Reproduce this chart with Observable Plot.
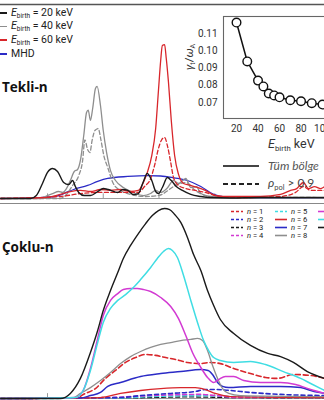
<!DOCTYPE html>
<html><head><meta charset="utf-8">
<script src="https://cdn.jsdelivr.net/npm/d3@7"></script>
<script src="https://cdn.jsdelivr.net/npm/@observablehq/plot@0.6"></script>
<style>
body{margin:0;background:#fff;font-family:Roboto,"Open Sans",sans-serif;color:#222;}
#wrap{position:relative;width:324px;height:400px;overflow:hidden;background:#fff;}
#wrap > *{position:absolute;}
.row{display:flex;align-items:center;white-space:nowrap;}
.sub{font-size:0.62em;position:relative;top:0.35em;}
.title{font-family:"Open Sans",sans-serif;font-weight:700;font-size:13.5px;color:#111;}
</style></head><body><div id="wrap"></div>
<script>
// ---------- data: top panel (single-n), x in arbitrary frequency units, y amplitude ----------
const topTicks = [1, 2, 3, 4];
const top20 = [[0.16,0],[0.70,0],[0.80,0.019],[0.91,0.097],[1.0,0.168],[1.09,0.193],[1.18,0.174],[1.29,0.103],[1.38,0.090],[1.45,0.116],[1.50,0.077],[1.56,0.039],[1.66,0.019],[1.77,0.019],[1.90,0.045],[2.0,0.064],[2.09,0.058],[2.26,0.039],[2.35,0.058],[2.44,0.052],[2.54,0.026],[2.63,0.032],[2.72,0.110],[2.79,0.161],[2.87,0.116],[2.94,0.045],[2.99,0.032],[3.06,0.071],[3.15,0.135],[3.22,0.116],[3.31,0.077],[3.42,0.052],[3.57,0.026],[3.75,0.013],[3.92,0.006],[4.28,0.003],[4.82,0.006],[5.36,0.006],[5.97,0.006]];
const top40 = [[0.16,0],[0.87,0],[0.96,0.013],[1.09,0.032],[1.20,0.045],[1.27,0.039],[1.34,0.064],[1.41,0.116],[1.48,0.174],[1.54,0.187],[1.59,0.245],[1.65,0.406],[1.70,0.554],[1.73,0.570],[1.77,0.503],[1.81,0.580],[1.86,0.709],[1.89,0.722],[1.95,0.599],[2.0,0.438],[2.06,0.296],[2.13,0.180],[2.22,0.116],[2.36,0.071],[2.54,0.039],[2.72,0.019],[2.85,0.032],[2.94,0.052],[3.03,0.039],[3.14,0.064],[3.26,0.116],[3.35,0.097],[3.48,0.129],[3.57,0.071],[3.67,0.077],[3.75,0.032],[3.92,0.013],[4.10,0.006],[4.64,0.006],[5.97,0.006]];
const top40pol = [[0.16,0],[1.23,0],[1.34,0.026],[1.45,0.084],[1.56,0.148],[1.63,0.245],[1.67,0.378],[1.72,0.315],[1.76,0.296],[1.80,0.374],[1.85,0.438],[1.91,0.451],[1.96,0.374],[2.01,0.277],[2.08,0.200],[2.18,0.097],[2.31,0.052],[2.49,0.026],[2.76,0.013],[3.0,0.020],[3.30,0.084],[3.48,0.103],[3.65,0.052],[3.92,0.013],[5.97,0.006]];
const top60 = [[0.16,0],[0.96,0.006],[1.23,0.026],[1.41,0.045],[1.59,0.052],[1.77,0.045],[1.95,0.058],[2.13,0.052],[2.31,0.058],[2.49,0.045],[2.63,0.052],[2.72,0.103],[2.79,0.168],[2.87,0.277],[2.94,0.451],[2.99,0.696],[3.03,0.889],[3.06,0.986],[3.10,0.992],[3.13,0.902],[3.17,0.747],[3.22,0.503],[3.28,0.277],[3.35,0.155],[3.44,0.097],[3.57,0.084],[3.69,0.071],[3.83,0.052],[3.96,0.026],[4.10,0.013],[4.46,0.013],[4.82,0.013],[5.18,0.026],[5.36,0.052],[5.47,0.064],[5.59,0.103],[5.68,0.064],[5.79,0.077],[5.90,0.064],[5.97,0.077]];
const top60pol = [[0.16,0],[1.23,0.013],[1.59,0.032],[1.95,0.039],[2.31,0.039],[2.63,0.039],[2.74,0.077],[2.85,0.129],[2.92,0.213],[2.99,0.322],[3.05,0.380],[3.10,0.393],[3.15,0.341],[3.21,0.232],[3.26,0.135],[3.35,0.084],[3.48,0.064],[3.65,0.052],[3.83,0.039],[4.01,0.019],[4.46,0.006],[5.18,0.013],[5.45,0.039],[5.59,0.077],[5.72,0.052],[5.97,0.052]];
const topMHD = [[0.16,0],[0.87,0.006],[1.14,0.013],[1.29,0.032],[1.47,0.058],[1.72,0.084],[1.90,0.110],[2.08,0.129],[2.44,0.142],[2.79,0.148],[3.03,0.145],[3.24,0.135],[3.51,0.116],[3.75,0.077],[3.98,0.026],[4.19,0.010],[4.82,0.006],[5.97,0.006]];
const topLabels = ["20 keV", "40 keV", "60 keV", "MHD"];

// ---------- data: bottom panel (multi-n) ----------
const bottomTicks = [1, 4];
const n1 = [[0.16,0],[1.50,0.003],[1.68,0.026],[1.86,0.051],[2.04,0.103],[2.22,0.144],[2.40,0.185],[2.58,0.210],[2.76,0.226],[2.94,0.221],[3.12,0.210],[3.30,0.200],[3.51,0.185],[3.75,0.179],[3.92,0.185],[4.10,0.179],[4.34,0.154],[4.64,0.128],[4.91,0.108],[5.12,0.103],[5.41,0.123],[5.72,0.118],[5.97,0.103]];
const n2 = [[0.16,0],[2.31,0.005],[2.67,0.015],[3.21,0.026],[3.65,0.036],[3.83,0.046],[4.01,0.046],[4.28,0.041],[4.64,0.031],[5.18,0.021],[5.97,0.015]];
const n3 = [[0.16,0],[2.5,0.003],[3.5,0.008],[4.3,0.005],[5.97,0.003]];
const n4 = [[0.16,0],[2.13,0.005],[2.85,0.015],[3.75,0.021],[4.01,0.015],[4.46,0.005],[5.97,0.005]];
const n5 = [[0.16,0],[2.31,0.003],[2.85,0.010],[3.75,0.015],[4.28,0.010],[5.97,0.005]];
const n6 = [[0.16,0],[1.95,0.005],[2.31,0.026],[2.67,0.041],[3.03,0.051],[3.39,0.056],[3.65,0.056],[3.83,0.046],[4.01,0.026],[4.28,0.010],[5.97,0.005]];
const n7 = [[0.16,0],[1.59,0.003],[1.77,0.015],[1.95,0.031],[2.08,0.062],[2.31,0.082],[2.67,0.113],[3.03,0.128],[3.39,0.138],[3.75,0.149],[3.88,0.144],[3.96,0.123],[4.05,0.082],[4.14,0.062],[4.25,0.056],[4.64,0.062],[5.18,0.062],[5.54,0.056],[5.78,0.036],[5.97,0.026]];
const n8 = [[0.16,0],[1.45,0.003],[1.59,0.026],[1.77,0.056],[1.95,0.092],[2.13,0.133],[2.31,0.179],[2.49,0.215],[2.67,0.241],[2.85,0.262],[3.03,0.277],[3.21,0.287],[3.39,0.297],[3.57,0.303],[3.69,0.308],[3.78,0.297],[3.87,0.246],[3.96,0.169],[4.05,0.103],[4.14,0.051],[4.25,0.026],[4.46,0.015],[5.97,0.010]];
const n9 = [[0.16,0],[1.50,0.005],[1.64,0.041],[1.77,0.154],[1.90,0.308],[2.0,0.426],[2.13,0.503],[2.26,0.538],[2.36,0.559],[2.49,0.564],[2.61,0.564],[2.72,0.559],[2.85,0.549],[3.03,0.518],[3.21,0.472],[3.35,0.410],[3.48,0.323],[3.60,0.236],[3.75,0.159],[3.87,0.108],[3.98,0.082],[4.07,0.097],[4.19,0.113],[4.34,0.113],[4.52,0.092],[4.82,0.082],[5.18,0.082],[5.45,0.072],[5.72,0.046],[5.97,0.026]];
const n10 = [[0.16,0],[1.50,0.005],[1.64,0.041],[1.77,0.144],[1.90,0.287],[2.0,0.390],[2.13,0.462],[2.26,0.503],[2.40,0.533],[2.54,0.569],[2.67,0.610],[2.85,0.672],[2.97,0.718],[3.08,0.754],[3.17,0.769],[3.24,0.759],[3.33,0.723],[3.44,0.631],[3.57,0.503],[3.69,0.390],[3.80,0.297],[3.89,0.246],[3.98,0.210],[4.10,0.195],[4.34,0.185],[4.64,0.190],[4.91,0.174],[5.23,0.138],[5.54,0.103],[5.72,0.077],[5.97,0.041]];
const n11 = [[0.16,0],[1.23,0],[1.41,0.026],[1.59,0.103],[1.77,0.236],[1.90,0.349],[2.0,0.451],[2.13,0.554],[2.26,0.646],[2.36,0.718],[2.49,0.785],[2.63,0.846],[2.76,0.897],[2.88,0.938],[2.99,0.964],[3.10,0.974],[3.19,0.969],[3.28,0.944],[3.39,0.903],[3.51,0.826],[3.62,0.738],[3.75,0.656],[3.87,0.554],[3.98,0.477],[4.10,0.405],[4.34,0.333],[4.64,0.272],[4.95,0.231],[5.18,0.215],[5.41,0.185],[5.66,0.138],[5.97,0.103]];
const nLabels = ["n = 1","n = 2","n = 3","n = 4","n = 5","n = 6","n = 7","n = 8"];

// ---------- data: inset growth rate ----------
const birthKeV = [20, 30, 40, 45, 50, 55, 60, 70, 80, 90, 100];
const growthRate = [0.1164, 0.0938, 0.0827, 0.0793, 0.0752, 0.0741, 0.0730, 0.0713, 0.0707, 0.0696, 0.0688];
const insetXTicks = [20, 40, 60, 80, 100];
const insetYTicks = [0.07, 0.08, 0.09, 0.10, 0.11];

// ---------- styles ----------
const C = {black:"#1a1a1a", gray:"#8e8e8e", red:"#d8262b", blue:"#2b2bc6", magenta:"#d23ad2", cyan:"#3fdde3"};
const xDomain = [0.157, 5.968];
const wrap = document.getElementById("wrap");
function place(node, left, top){ node.style.left = left + "px"; node.style.top = top + "px"; wrap.appendChild(node); return node; }
function html(s){ const d = document.createElement("div"); d.innerHTML = s; return d; }
const line = (data, stroke, dash, w = 1.3) => Plot.line(data, {x: d => d[0], y: d => d[1], stroke, strokeWidth: w, strokeDasharray: dash, curve: "monotone-x"});

// ---------- top panel ----------
const topPlot = Plot.plot({
  width: 324, height: 200, marginTop: 4, marginBottom: 2, marginLeft: 0, marginRight: 0,
  x: {domain: xDomain, axis: null}, y: {domain: [0, 1.25], axis: null},
  style: {background: "transparent"},
  marks: [
    Plot.ruleY([1.25], {stroke: "#555", strokeWidth: 1.6}),
    Plot.ruleY([0], {stroke: "#9a9a9a", strokeWidth: 1.2}),
    Plot.ruleX(topTicks, {y1: 0, y2: 0.03, stroke: "#9a9a9a"}),
    line(topMHD, C.blue),
    line(top40pol, C.gray, "4,2.5"),
    line(top40, C.gray),
    line(top60pol, C.red, "4,2.5"),
    line(top60, C.red),
    line(top20, C.black, null, 1.4)
  ]
});
place(topPlot, 0, 0);

// ---------- bottom panel ----------
const botPlot = Plot.plot({
  width: 324, height: 200, marginTop: 3, marginBottom: 2, marginLeft: 0, marginRight: 0,
  x: {domain: xDomain, axis: null}, y: {domain: [0, 1], axis: null},
  style: {background: "transparent"},
  marks: [
    Plot.ruleY([1], {stroke: "#888", strokeWidth: 1.2}),
    Plot.ruleY([0], {stroke: "#9a9a9a", strokeWidth: 1.2}),
    Plot.ruleX(bottomTicks, {y1: 0, y2: 0.025, stroke: "#9a9a9a"}),
    line(n3, C.black, "4,3"),
    line(n5, C.cyan, "4,3", 1.6),
    line(n4, C.magenta, "4,3", 1.6),
    line(n2, C.blue, "4,3", 1.6),
    line(n6, C.red),
    line(n7, C.blue, null, 1.5),
    line(n1, C.red, "5,3", 1.6),
    line(n8, C.gray),
    line(n9, C.magenta, null, 1.5),
    line(n10, C.cyan, null, 1.5),
    line(n11, C.black, null, 1.4)
  ]
});
place(botPlot, 0, 200);

// ---------- inset ----------
const insetData = birthKeV.map((k, i) => ({keV: k, g: growthRate[i]}));
const inset = Plot.plot({
  width: 160, height: 150, marginLeft: 40, marginTop: 16, marginBottom: 32, marginRight: 0,
  x: {domain: [7.9, 119.5], ticks: insetXTicks, tickSize: 0, tickPadding: 6, label: null},
  y: {domain: [0.0607, 0.1199], ticks: insetYTicks, tickFormat: ".2f", tickSize: 0, tickPadding: 6, label: null},
  style: {background: "transparent", fontSize: "10px", fontFamily: "Roboto, sans-serif", color: "#333"},
  marks: [
    Plot.frame({stroke: "#666", strokeWidth: 1.1}),
    Plot.line(insetData, {x: "keV", y: "g", stroke: "#111", strokeWidth: 1.5}),
    Plot.dot(insetData, {x: "keV", y: "g", r: 4.3, stroke: "#111", strokeWidth: 1.4, fill: "white"})
  ]
});
place(inset, 183, 0);

// inset axis labels
const yl = html('<i>γ</i><span class="sub">t</span>/<i>ω</i><span class="sub">A</span>');
yl.style.cssText = "font-size:11.5px;color:#333;white-space:nowrap;transform:translate(-50%,-50%) rotate(-90deg);";
place(yl, 189, 57);
const xl = html('<i>E</i><span class="sub">birth</span> keV');
xl.style.cssText = "font-size:12.5px;color:#333;white-space:nowrap;transform:translateY(-50%);";
place(xl, 268, 143);

// ---------- top-left legend ----------
const topColors = [C.black, C.gray, C.red, C.blue];
topLabels.forEach((lab, i) => {
  const txt = lab === "MHD" ? "MHD" : '<i>E</i><span class="sub">birth</span> = ' + lab;
  const r = html('<span style="display:inline-block;width:7px;height:1.6px;background:' + topColors[i] + ';margin-right:4px"></span><span>' + txt + '</span>');
  r.className = "row";
  r.style.cssText += "font-size:10.5px;height:14px;line-height:14px;color:#222;";
  place(r, 0, 6 + i * 13.6);
});

// panel titles
const t1 = html("Tekli-n"); t1.className = "title"; t1.style.lineHeight = "16px"; place(t1, 2, 79);
const t2 = html("Çoklu-n"); t2.className = "title"; t2.style.lineHeight = "16px"; place(t2, 2, 239);

// inset legend (whole region vs edge)
const l1 = html('<svg width="36" height="4" style="margin-right:9px"><line x1="0" y1="2" x2="36" y2="2" stroke="#444" stroke-width="2"/></svg><span style="font-style:italic;color:#555">Tüm bölge</span>');
l1.className = "row"; l1.style.cssText += "font-family:Lato,sans-serif;font-size:12px;height:14px;line-height:14px;";
place(l1, 223, 159);
const l2 = html('<svg width="36" height="4" style="margin-right:9px"><line x1="0" y1="2" x2="36" y2="2" stroke="#222" stroke-width="1.8" stroke-dasharray="5,3"/></svg><span style="color:#444"><i>ρ</i><span class="sub">pol</span> &gt; 0.9</span>');
l2.className = "row"; l2.style.cssText += "font-family:Lato,sans-serif;font-size:12px;height:14px;line-height:14px;";
place(l2, 223, 177);

// bottom legend
const nStyles = [[C.red,"3,2"],[C.blue,"3,2"],[C.black,"3,2"],[C.magenta,"3,2"],[C.cyan,"3,2"],[C.red,null],[C.blue,null],[C.gray,null]];
nLabels.forEach((lab, i) => {
  const col = Math.floor(i / 4), row = i % 4;
  const [c, dash] = nStyles[i];
  const r = html('<svg width="12" height="3" style="margin-right:4px"><line x1="0" y1="1.5" x2="12" y2="1.5" stroke="' + c + '" stroke-width="1.6"' + (dash ? ' stroke-dasharray="' + dash + '"' : '') + '/></svg><span style="line-height:7px;display:inline-block;height:7px"><i>n</i> = ' + lab.slice(4) + '</span>');
  r.className = "row"; r.style.cssText += "font-size:7.6px;height:8px;line-height:7px;color:#222;";
  place(r, 231 + col * 44, 207 + row * 8.1);
});
// third legend column (labels cut off at the edge)
[C.magenta, C.cyan, C.black].forEach((c, row) => {
  const r = html('<svg width="12" height="3"><line x1="0" y1="1.5" x2="12" y2="1.5" stroke="' + c + '" stroke-width="1.6"/></svg>');
  r.className = "row"; r.style.cssText += "height:8px;";
  place(r, 318, 207 + row * 8.1);
});
</script>
</body></html>
